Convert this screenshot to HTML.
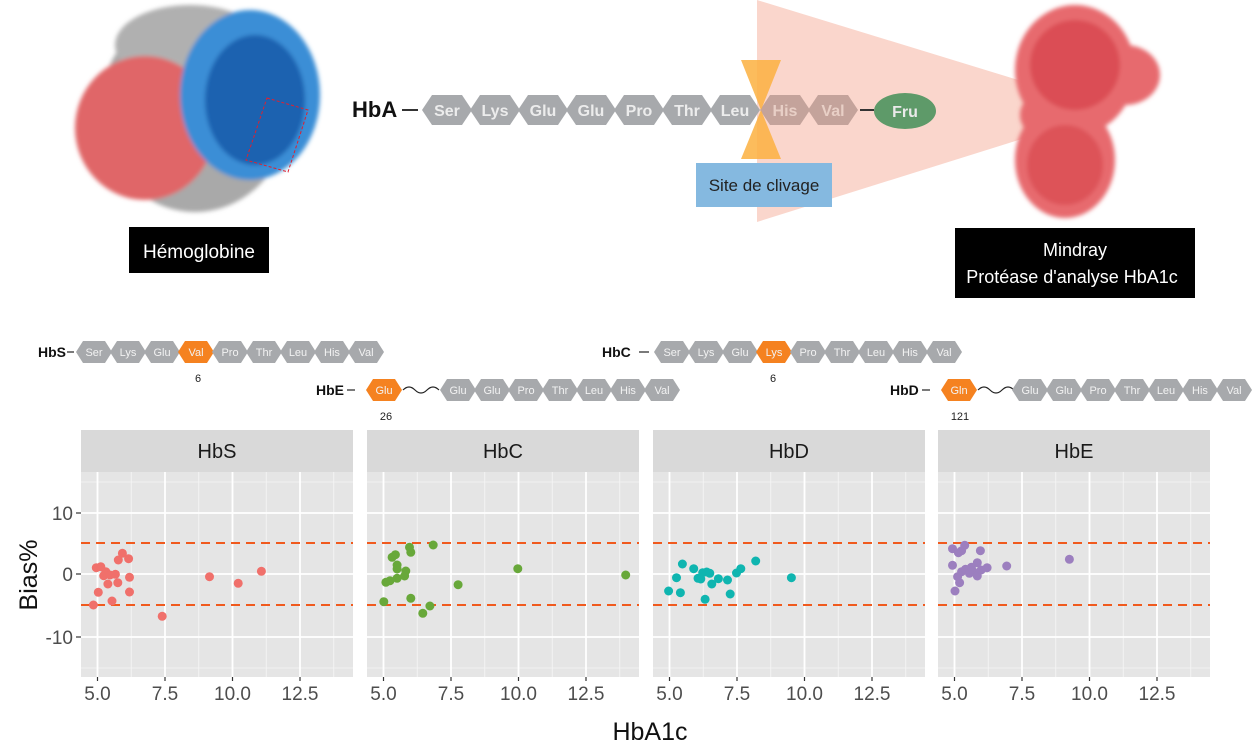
<!DOCTYPE html>
<html><head><meta charset="utf-8"><style>
html,body{margin:0;padding:0;background:#fff;}
svg{display:block;font-family:"Liberation Sans",sans-serif;}
</style></head><body>
<svg width="1255" height="748" viewBox="0 0 1255 748" xmlns="http://www.w3.org/2000/svg">
<defs>
<filter id="bl" x="-10%" y="-10%" width="120%" height="120%"><feGaussianBlur stdDeviation="2"/></filter>
</defs>
<!-- Hemoglobin -->
<g filter="url(#bl)">
<ellipse cx="195" cy="110" rx="95" ry="102" fill="#a9a9a9"/>
<ellipse cx="190" cy="45" rx="75" ry="40" fill="#b0b0b0"/>
<ellipse cx="145" cy="128" rx="70" ry="72" fill="#e06668"/>
<ellipse cx="250" cy="95" rx="70" ry="85" fill="#3a8ed6"/>
<ellipse cx="255" cy="100" rx="50" ry="65" fill="#1a62b0"/>
</g>
<polygon points="267,98 308,110 288,172 246,160" fill="none" stroke="#e02030" stroke-width="1" stroke-dasharray="3,2"/>
<rect x="129" y="227" width="140" height="46" fill="#000"/>
<text x="199" y="258" fill="#fff" font-size="19" text-anchor="middle">Hémoglobine</text>

<!-- pink triangle -->
<polygon points="757,0 1028,83 1028,137 757,222" fill="#f9d2c6" opacity="0.9"/>
<!-- Mindray protein -->
<g filter="url(#bl)">
<ellipse cx="1075" cy="70" rx="60" ry="65" fill="#e76a6e"/>
<ellipse cx="1125" cy="75" rx="35" ry="30" fill="#e76a6e"/>
<ellipse cx="1065" cy="160" rx="50" ry="58" fill="#e76a6e"/>
<ellipse cx="1050" cy="115" rx="30" ry="25" fill="#e76a6e"/>
<ellipse cx="1075" cy="65" rx="45" ry="45" fill="#d0303a" opacity="0.5"/>
<ellipse cx="1065" cy="165" rx="38" ry="40" fill="#d0303a" opacity="0.4"/>
</g>
<rect x="955" y="228" width="240" height="70" fill="#000"/>
<text x="1075" y="256" fill="#fff" font-size="18" text-anchor="middle">Mindray</text>
<text x="1072" y="283" fill="#fff" font-size="18" text-anchor="middle">Protéase d'analyse HbA1c</text>

<!-- HbA sequence -->
<text x="352" y="117" font-size="22" font-weight="bold" fill="#111">HbA</text>
<line x1="402" y1="110" x2="418" y2="110" stroke="#333" stroke-width="2"/>
<g fill="#a7a9ac">
<polygon points="422,110 432,95 462,95 472,110 462,125 432,125"/>
<polygon points="470,110 480,95 510,95 520,110 510,125 480,125"/>
<polygon points="518,110 528,95 558,95 568,110 558,125 528,125"/>
<polygon points="566,110 576,95 606,95 616,110 606,125 576,125"/>
<polygon points="614,110 624,95 654,95 664,110 654,125 624,125"/>
<polygon points="662,110 672,95 702,95 712,110 702,125 672,125"/>
<polygon points="710,110 720,95 750,95 760,110 750,125 720,125"/>
</g>
<g fill="#c4a39b">
<polygon points="760,110 770,95 800,95 810,110 800,125 770,125"/>
<polygon points="808,110 818,95 848,95 858,110 848,125 818,125"/>
</g>
<g font-size="16" font-weight="bold" fill="#ececec" text-anchor="middle">
<text x="447" y="116">Ser</text><text x="495" y="116">Lys</text><text x="543" y="116">Glu</text>
<text x="591" y="116">Glu</text><text x="639" y="116">Pro</text><text x="687" y="116">Thr</text>
<text x="735" y="116">Leu</text>
<text x="785" y="116" fill="#e8cfc6">His</text><text x="833" y="116" fill="#e8cfc6">Val</text>
</g>
<line x1="860" y1="110" x2="874" y2="110" stroke="#333" stroke-width="2"/>
<ellipse cx="905" cy="111" rx="31" ry="18" fill="#5e9a69"/>
<text x="905" y="117" font-size="16" font-weight="bold" fill="#eaeaea" text-anchor="middle">Fru</text>
<!-- hourglass -->
<polygon points="741,60 781,60 761,110 781,159 741,159 761,110" fill="#fbb040" opacity="0.85"/>
<rect x="696" y="163" width="136" height="44" fill="#85b9e0"/>
<text x="764" y="191" font-size="17" fill="#222" text-anchor="middle">Site de clivage</text>

<!-- Variant sequences -->
<g font-size="14" font-weight="bold" fill="#111">
<text x="38" y="357">HbS</text><text x="316" y="395">HbE</text>
<text x="602" y="357">HbC</text><text x="890" y="395">HbD</text>
</g>
<g stroke="#333" stroke-width="1.3">
<line x1="67" y1="352" x2="74" y2="352"/><line x1="347" y1="390" x2="355" y2="390"/>
<line x1="639" y1="352" x2="649" y2="352"/><line x1="922" y1="390" x2="930" y2="390"/>
</g>
<g fill="none" stroke="#222" stroke-width="1.2">
<path d="M403,390 q6,-6 12,0 t12,0 t12,0"/>
<path d="M978,390 q6,-6 12,0 t12,0 t12,0"/>
</g>
<g fill="#a7a9ac">
<polygon points="76,352 83,341 105,341 112,352 105,363 83,363"/>
<polygon points="110,352 117,341 139,341 146,352 139,363 117,363"/>
<polygon points="144,352 151,341 173,341 180,352 173,363 151,363"/>
<polygon points="178,352 185,341 207,341 214,352 207,363 185,363" fill="#f58220"/>
<polygon points="212,352 219,341 241,341 248,352 241,363 219,363"/>
<polygon points="246,352 253,341 275,341 282,352 275,363 253,363"/>
<polygon points="280,352 287,341 309,341 316,352 309,363 287,363"/>
<polygon points="314,352 321,341 343,341 350,352 343,363 321,363"/>
<polygon points="348,352 355,341 377,341 384,352 377,363 355,363"/>
<polygon points="366,390 373,379 395,379 402,390 395,401 373,401" fill="#f58220"/>
<polygon points="440,390 447,379 469,379 476,390 469,401 447,401"/>
<polygon points="474,390 481,379 503,379 510,390 503,401 481,401"/>
<polygon points="508,390 515,379 537,379 544,390 537,401 515,401"/>
<polygon points="542,390 549,379 571,379 578,390 571,401 549,401"/>
<polygon points="576,390 583,379 605,379 612,390 605,401 583,401"/>
<polygon points="610,390 617,379 639,379 646,390 639,401 617,401"/>
<polygon points="644,390 651,379 673,379 680,390 673,401 651,401"/>
<polygon points="654,352 661,341 683,341 690,352 683,363 661,363"/>
<polygon points="688,352 695,341 717,341 724,352 717,363 695,363"/>
<polygon points="722,352 729,341 751,341 758,352 751,363 729,363"/>
<polygon points="756,352 763,341 785,341 792,352 785,363 763,363" fill="#f58220"/>
<polygon points="790,352 797,341 819,341 826,352 819,363 797,363"/>
<polygon points="824,352 831,341 853,341 860,352 853,363 831,363"/>
<polygon points="858,352 865,341 887,341 894,352 887,363 865,363"/>
<polygon points="892,352 899,341 921,341 928,352 921,363 899,363"/>
<polygon points="926,352 933,341 955,341 962,352 955,363 933,363"/>
<polygon points="941,390 948,379 970,379 977,390 970,401 948,401" fill="#f58220"/>
<polygon points="1012,390 1019,379 1041,379 1048,390 1041,401 1019,401"/>
<polygon points="1046,390 1053,379 1075,379 1082,390 1075,401 1053,401"/>
<polygon points="1080,390 1087,379 1109,379 1116,390 1109,401 1087,401"/>
<polygon points="1114,390 1121,379 1143,379 1150,390 1143,401 1121,401"/>
<polygon points="1148,390 1155,379 1177,379 1184,390 1177,401 1155,401"/>
<polygon points="1182,390 1189,379 1211,379 1218,390 1211,401 1189,401"/>
<polygon points="1216,390 1223,379 1245,379 1252,390 1245,401 1223,401"/>
</g>
<g font-size="11" fill="#f2f2f2" text-anchor="middle">
<text x="94" y="356">Ser</text><text x="128" y="356">Lys</text><text x="162" y="356">Glu</text><text x="196" y="356">Val</text><text x="230" y="356">Pro</text><text x="264" y="356">Thr</text><text x="298" y="356">Leu</text><text x="332" y="356">His</text><text x="366" y="356">Val</text>
<text x="384" y="394">Glu</text><text x="458" y="394">Glu</text><text x="492" y="394">Glu</text><text x="526" y="394">Pro</text><text x="560" y="394">Thr</text><text x="594" y="394">Leu</text><text x="628" y="394">His</text><text x="662" y="394">Val</text>
<text x="672" y="356">Ser</text><text x="706" y="356">Lys</text><text x="740" y="356">Glu</text><text x="774" y="356">Lys</text><text x="808" y="356">Pro</text><text x="842" y="356">Thr</text><text x="876" y="356">Leu</text><text x="910" y="356">His</text><text x="944" y="356">Val</text>
<text x="959" y="394">Gln</text><text x="1030" y="394">Glu</text><text x="1064" y="394">Glu</text><text x="1098" y="394">Pro</text><text x="1132" y="394">Thr</text><text x="1166" y="394">Leu</text><text x="1200" y="394">His</text><text x="1234" y="394">Val</text>
</g>
<g font-size="11" fill="#222" text-anchor="middle">
<text x="198" y="382">6</text><text x="386" y="420">26</text><text x="773" y="382">6</text><text x="960" y="420">121</text>
</g>

<!-- Facet panels -->
<g fill="#d9d9d9">
<rect x="81" y="430" width="272" height="42"/><rect x="367" y="430" width="272" height="42"/>
<rect x="653" y="430" width="272" height="42"/><rect x="938" y="430" width="272" height="42"/>
</g>
<g font-size="20" fill="#1a1a1a" text-anchor="middle">
<text x="217" y="458">HbS</text><text x="503" y="458">HbC</text><text x="789" y="458">HbD</text><text x="1074" y="458">HbE</text>
</g>
<g fill="#e5e5e5">
<rect x="81" y="472" width="272" height="205"/><rect x="367" y="472" width="272" height="205"/>
<rect x="653" y="472" width="272" height="205"/><rect x="938" y="472" width="272" height="205"/>
</g>
<defs>
<g id="grid">
<g stroke="#f5f5f5" stroke-width="0.8">
<line x1="0" x2="272" y1="10" y2="10"/><line x1="0" x2="272" y1="196" y2="196"/>
<line x1="50.25" x2="50.25" y1="0" y2="205"/><line x1="117.75" x2="117.75" y1="0" y2="205"/>
<line x1="185.25" x2="185.25" y1="0" y2="205"/><line x1="252.75" x2="252.75" y1="0" y2="205"/>
</g>
<g stroke="#fff" stroke-width="1.8">
<line x1="0" x2="272" y1="41" y2="41"/><line x1="0" x2="272" y1="102" y2="102"/><line x1="0" x2="272" y1="165" y2="165"/>
<line x1="16.5" x2="16.5" y1="0" y2="205"/><line x1="84" x2="84" y1="0" y2="205"/>
<line x1="151.5" x2="151.5" y1="0" y2="205"/><line x1="219" x2="219" y1="0" y2="205"/>
</g>
<g stroke="#f05a1e" stroke-width="2" stroke-dasharray="9,6">
<line x1="0" x2="272" y1="71" y2="71"/><line x1="0" x2="272" y1="133" y2="133"/>
</g>
<g stroke="#333" stroke-width="1.2">
<line x1="16.5" x2="16.5" y1="205" y2="209"/><line x1="84" x2="84" y1="205" y2="209"/>
<line x1="151.5" x2="151.5" y1="205" y2="209"/><line x1="219" x2="219" y1="205" y2="209"/>
</g>
<g font-size="19" fill="#4d4d4d" text-anchor="middle">
<text x="16.5" y="228">5.0</text>
<text x="84" y="228">7.5</text><text x="151.5" y="228">10.0</text><text x="219" y="228">12.5</text>
</g>
</g>
</defs>
<use href="#grid" transform="translate(81,472)"/>
<use href="#grid" transform="translate(367,472)"/>
<use href="#grid" transform="translate(653,472)"/>
<use href="#grid" transform="translate(938,472)"/>

<g stroke="#333" stroke-width="1.2">
<line x1="76" x2="81" y1="513" y2="513"/><line x1="76" x2="81" y1="574" y2="574"/><line x1="76" x2="81" y1="637" y2="637"/>
</g>
<g font-size="19" fill="#4d4d4d" text-anchor="end">
<text x="73" y="520">10</text><text x="73" y="581">0</text><text x="73" y="644">-10</text>
</g>
<text transform="translate(37,575) rotate(-90)" font-size="25" fill="#111" text-anchor="middle">Bias%</text>
<text x="650" y="740" font-size="25" fill="#111" text-anchor="middle">HbA1c</text>

<g fill="#f0706b">
<circle cx="93.4" cy="605" r="4.5"/><circle cx="96.3" cy="567.7" r="4.5"/><circle cx="98.3" cy="592.3" r="4.5"/><circle cx="100.8" cy="566.7" r="4.5"/><circle cx="103.7" cy="575.7" r="4.5"/><circle cx="105.8" cy="571.7" r="4.5"/><circle cx="107.9" cy="584" r="4.5"/><circle cx="110" cy="575" r="4.5"/><circle cx="112" cy="601" r="4.5"/><circle cx="115.4" cy="574.3" r="4.5"/><circle cx="117.8" cy="582.7" r="4.5"/><circle cx="118.3" cy="560" r="4.5"/><circle cx="122.4" cy="553.3" r="4.5"/><circle cx="128.6" cy="558.7" r="4.5"/><circle cx="129.5" cy="577.3" r="4.5"/><circle cx="129.5" cy="592" r="4.5"/><circle cx="162.2" cy="616.3" r="4.5"/><circle cx="209.5" cy="576.7" r="4.5"/><circle cx="238.2" cy="583.3" r="4.5"/><circle cx="261.4" cy="571.3" r="4.5"/>
</g>
<g fill="#68a83a">
<circle cx="383.8" cy="601.7" r="4.5"/><circle cx="385.9" cy="582.3" r="4.5"/><circle cx="390" cy="580.7" r="4.5"/><circle cx="392.1" cy="557.3" r="4.5"/><circle cx="395.4" cy="554.7" r="4.5"/><circle cx="397.1" cy="565" r="4.5"/><circle cx="397.1" cy="569" r="4.5"/><circle cx="397.1" cy="578.3" r="4.5"/><circle cx="405.8" cy="571" r="4.5"/><circle cx="404.6" cy="576" r="4.5"/><circle cx="409.5" cy="547.3" r="4.5"/><circle cx="410.8" cy="552.3" r="4.5"/><circle cx="410.8" cy="598.3" r="4.5"/><circle cx="422.8" cy="613.3" r="4.5"/><circle cx="429.9" cy="606" r="4.5"/><circle cx="433.2" cy="545" r="4.5"/><circle cx="458.1" cy="584.7" r="4.5"/><circle cx="517.8" cy="568.7" r="4.5"/><circle cx="625.7" cy="575" r="4.5"/>
</g>
<g fill="#0fb5b0">
<circle cx="668.6" cy="591" r="4.5"/><circle cx="676.5" cy="577.7" r="4.5"/><circle cx="680.4" cy="592.7" r="4.5"/><circle cx="682.4" cy="564" r="4.5"/><circle cx="693.7" cy="568.7" r="4.5"/><circle cx="698" cy="578.3" r="4.5"/><circle cx="700.8" cy="579" r="4.5"/><circle cx="702.7" cy="572.7" r="4.5"/><circle cx="705.1" cy="599.3" r="4.5"/><circle cx="706.7" cy="572" r="4.5"/><circle cx="709.8" cy="573.3" r="4.5"/><circle cx="711.8" cy="584" r="4.5"/><circle cx="718.4" cy="578.7" r="4.5"/><circle cx="727.5" cy="580" r="4.5"/><circle cx="730.2" cy="594" r="4.5"/><circle cx="736.5" cy="573" r="4.5"/><circle cx="740.8" cy="568.7" r="4.5"/><circle cx="755.7" cy="561" r="4.5"/><circle cx="791.4" cy="577.7" r="4.5"/>
</g>
<g fill="#9c7fbf">
<circle cx="952.5" cy="548.7" r="4.5"/><circle cx="958.4" cy="552.7" r="4.5"/><circle cx="961.6" cy="550.7" r="4.5"/><circle cx="964.7" cy="545.3" r="4.5"/><circle cx="980.4" cy="550.7" r="4.5"/><circle cx="952.5" cy="565.3" r="4.5"/><circle cx="977.3" cy="562.7" r="4.5"/><circle cx="987.1" cy="567.7" r="4.5"/><circle cx="1006.7" cy="566" r="4.5"/><circle cx="1069.4" cy="559.3" r="4.5"/><circle cx="961.6" cy="571.7" r="4.5"/><circle cx="957.6" cy="576.7" r="4.5"/><circle cx="965.5" cy="569.3" r="4.5"/><circle cx="969.4" cy="573.3" r="4.5"/><circle cx="973.3" cy="571.7" r="4.5"/><circle cx="977.3" cy="576" r="4.5"/><circle cx="981.2" cy="570" r="4.5"/><circle cx="959.6" cy="582.7" r="4.5"/><circle cx="955" cy="591" r="4.5"/><circle cx="971.4" cy="567.3" r="4.5"/>
</g>
</svg>
</body></html>
